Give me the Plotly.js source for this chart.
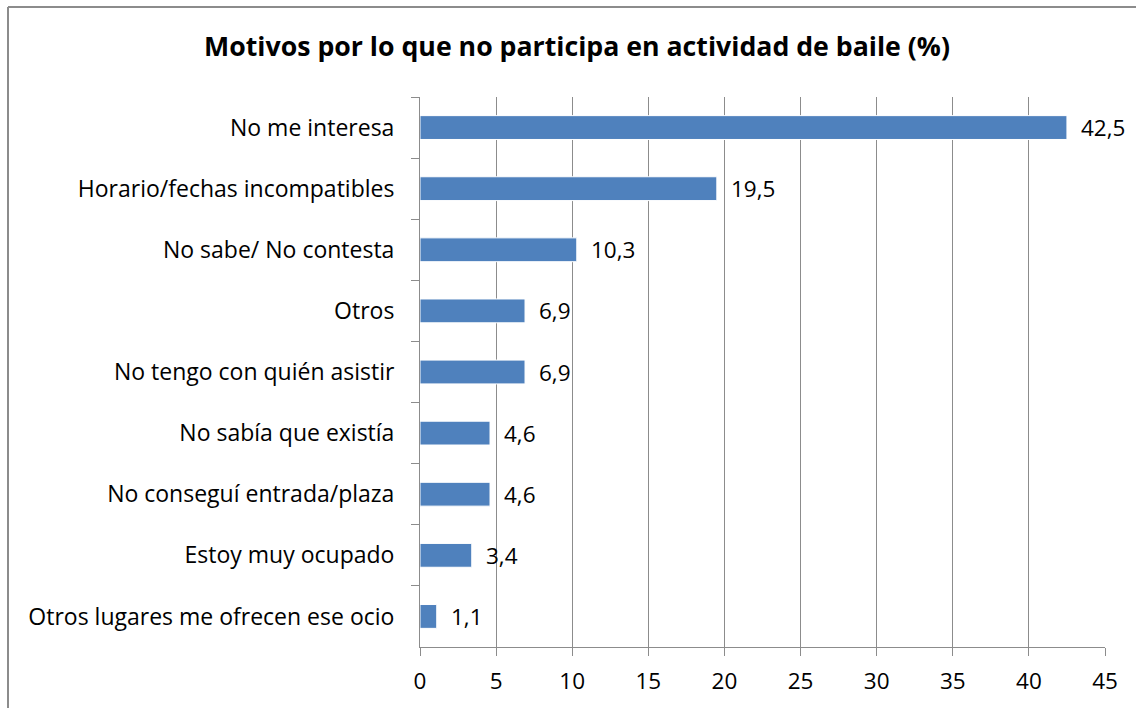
<!DOCTYPE html>
<html>
<head>
<meta charset="utf-8">
<script src="https://cdn.plot.ly/plotly-3.0.1.min.js"></script>
<style>html,body{margin:0;padding:0;background:#fff;}#chart{width:1139px;height:708px;}</style>
</head>
<body>
<div id="chart"></div>
<script>
const categories = [
  "No me interesa",
  "Horario/fechas incompatibles",
  "No sabe/ No contesta",
  "Otros",
  "No tengo con quién asistir",
  "No sabía que existía",
  "No conseguí entrada/plaza",
  "Estoy muy ocupado",
  "Otros lugares me ofrecen ese ocio"
];
const values = [42.5, 19.5, 10.3, 6.9, 6.9, 4.6, 4.6, 3.4, 1.1];
const xTicks = [0, 5, 10, 15, 20, 25, 30, 35, 40, 45];
const chartTitle = "Motivos por lo que no participa en actividad de baile (%)";

const FONT = "'Open Sans', sans-serif";
const fmt = v => v.toFixed(1).replace('.', ',');

const trace = {
  type: 'bar',
  orientation: 'h',
  x: values,
  y: categories,
  width: 0.39,
  marker: {color: '#4F81BD', line: {color: '#ffffff', width: 1}},
  hoverinfo: 'none'
};

const annotations = values.map((v, i) => ({
  x: v, y: categories[i], xref: 'x', yref: 'y',
  text: fmt(v), showarrow: false, xanchor: 'left', yanchor: 'middle',
  xshift: 12, font: {family: FONT, size: 22.5, color: '#000'}
}));

const layout = {
  width: 1139, height: 708,
  margin: {l: 420, r: 34, t: 97, b: 61},
  paper_bgcolor: '#fff', plot_bgcolor: '#fff',
  showlegend: false,
  font: {family: FONT, size: 23, color: '#000'},
  title: {text: '<b>' + chartTitle + '</b>', x: 577 / 1139, xanchor: 'center', y: 0.934, yanchor: 'middle',
          font: {family: FONT, size: 26.7, color: '#000'}},
  xaxis: {
    range: [0, 45], tickvals: xTicks, ticktext: xTicks.map(String),
    showgrid: true, gridcolor: '#8c8c8c', gridwidth: 1,
    zeroline: false, showline: true, linecolor: '#8c8c8c', linewidth: 1,
    ticks: 'outside', ticklen: 8, tickcolor: '#8c8c8c', tickwidth: 1,
    ticklabelstandoff: 6, tickfont: {size: 22.5}, fixedrange: true
  },
  yaxis: {
    type: 'category', autorange: 'reversed',
    showgrid: false, zeroline: false, showline: true, linecolor: '#8c8c8c', linewidth: 1,
    ticks: 'outside', tickson: 'boundaries', ticklen: 8, tickcolor: '#8c8c8c', tickwidth: 1,
    ticklabelstandoff: 20, fixedrange: true
  },
  annotations: annotations,
  shapes: [
    {type: 'line', xref: 'paper', yref: 'paper', x0: -412/685, x1: -412/685, y0: -1, y1: (708-7-61)/550, line: {color: '#8c8c8c', width: 2}},
    {type: 'line', xref: 'paper', yref: 'paper', x0: -412/685, x1: (1136-420)/685, y0: (708-7-61)/550, y1: (708-7-61)/550, line: {color: '#8c8c8c', width: 2}}
  ]
};

Plotly.newPlot('chart', [trace], layout, {displayModeBar: false, staticPlot: true});
</script>
</body>
</html>
